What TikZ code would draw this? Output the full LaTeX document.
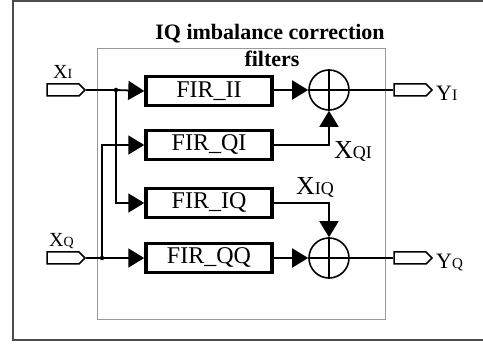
\documentclass[tikz,border=0pt]{standalone}
\usepackage{fontspec}
\setmainfont{Liberation Serif}
\usetikzlibrary{arrows.meta,shapes.symbols}
\begin{document}
\begin{tikzpicture}[x=1pt,y=-1pt,
  fir/.style={draw, line width=3.5pt, minimum width=126pt, minimum height=29pt, inner sep=0pt, font=\fontsize{24}{24}\selectfont},
  sumnode/.style={draw, circle, line width=1.6pt, minimum size=40pt, inner sep=0pt},
  port/.style={draw, signal, signal to=east, signal pointer angle=90, line width=1.5pt, minimum width=38pt, minimum height=12pt, inner sep=0pt, fill=white},
  conn/.style={line width=1.8pt},
  arr/.style={conn, -{Triangle[length=16pt,width=19pt]}},
  jdot/.style={circle, fill, inner sep=0pt, minimum size=4.5pt},
  big/.style={anchor=base west, inner sep=0pt},
  ttl/.style={anchor=base, inner sep=0pt, font=\bfseries\fontsize{22}{22}\selectfont}
]
\useasboundingbox (0,0) rectangle (483,345);
\clip (0,0) rectangle (483,345);
\draw[line width=2pt, black!70] (13,1.5) rectangle (500,340);
\draw[line width=1pt, black!40] (97,49) rectangle (385,319);

\node[ttl] (title1) at (270,40) {IQ imbalance correction};
\node[ttl] (title2) at (272,67) {filters};

\node[fir] (fii) at (209,91) {FIR\_II};
\node[fir] (fqi) at (209,145) {FIR\_QI};
\node[fir] (fiq) at (209,203) {FIR\_IQ};
\node[fir] (fqq) at (209,258) {FIR\_QQ};

\node[sumnode] (s1) at (329,90) {};
\node[sumnode] (s2) at (329,258) {};
\draw[line width=1.6pt] (s1.north) -- (s1.south) (s1.west) -- (s1.east);
\draw[line width=1.6pt] (s2.north) -- (s2.south) (s2.west) -- (s2.east);

\node[port] (xi) at (63,90) {};
\node[port] (xq) at (63,258) {};
\node[port] (yi) at (410,90) {};
\node[port] (yq) at (410,258) {};

\coordinate (j1) at (116,90);
\coordinate (j2) at (102,258);

\draw[conn] (xi.east) -- (j1);
\draw[arr] (j1) -- (fii.west);
\draw[arr] (j1) |- (fiq.west);
\draw[conn] (xq.east) -- (j2);
\draw[arr] (j2) -- (fqq.west);
\draw[arr] (j2) |- (fqi.west);
\node[jdot] (d1) at (j1) {};
\node[jdot] (d2) at (j2) {};

\draw[arr] (fii.east |- s1.west) -- (s1.west);
\draw[arr] (fqi.east) -| (s1.south);
\draw[arr] (fiq.east) -| (s2.north);
\draw[arr] (fqq.east) -- (s2.west);
\draw[conn] (s1.east) -- (yi.west);
\draw[conn] (s2.east) -- (yq.west);

\node[big] (lxi) at (53,79) {\fontsize{20}{20}\selectfont X\fontsize{14}{14}\selectfont I};
\node[big] (lxq) at (49,247) {\fontsize{20}{20}\selectfont X\fontsize{14}{14}\selectfont Q};
\node[big] (lyi) at (436,101) {\fontsize{22}{22}\selectfont Y\fontsize{16}{16}\selectfont I};
\node[big] (lyq) at (436,269) {\fontsize{22}{22}\selectfont Y\fontsize{15}{15}\selectfont Q};
\node[big] (lxqi) at (334,159) {\fontsize{26}{26}\selectfont X\fontsize{18}{18}\selectfont QI};
\node[big] (lxiq) at (296,195) {\fontsize{26}{26}\selectfont X\fontsize{18}{18}\selectfont IQ};
\end{tikzpicture}
\end{document}
